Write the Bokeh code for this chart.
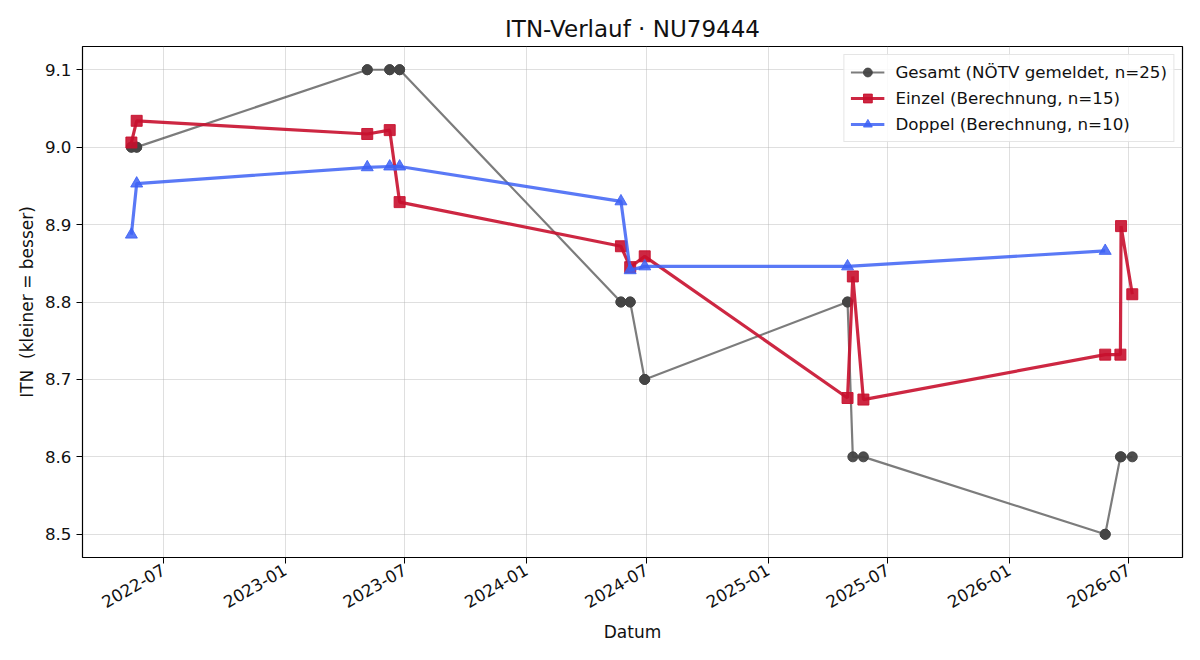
import math
from datetime import datetime
import pandas as pd
from bokeh.plotting import figure
from bokeh.models import FixedTicker, DatetimeTickFormatter, Range1d, NumeralTickFormatter
from bokeh.embed import file_html
from bokeh.resources import INLINE

# ---- data ----
gesamt_dates = ["2022-05-13", "2022-05-13", "2022-05-21", "2022-05-21",
                "2023-05-05", "2023-05-05", "2023-06-08", "2023-06-08",
                "2023-06-23", "2023-06-23", "2024-05-23", "2024-05-23",
                "2024-06-06", "2024-06-06", "2024-06-28", "2024-06-28",
                "2025-05-01", "2025-05-01", "2025-05-09", "2025-05-25",
                "2026-05-26", "2026-05-26", "2026-06-18", "2026-06-19",
                "2026-07-06"]
gesamt_itn = [9.0, 9.0, 9.0, 9.0,
              9.1, 9.1, 9.1, 9.1,
              9.1, 9.1, 8.8, 8.8,
              8.8, 8.8, 8.7, 8.7,
              8.8, 8.8, 8.6, 8.6,
              8.5, 8.5, 8.6, 8.6,
              8.6]

einzel_dates = ["2022-05-13", "2022-05-21", "2023-05-05", "2023-06-08",
                "2023-06-23", "2024-05-23", "2024-06-06", "2024-06-28",
                "2025-05-01", "2025-05-09", "2025-05-25", "2026-05-26",
                "2026-06-18", "2026-06-19", "2026-07-06"]
einzel_itn = [9.006, 9.034, 9.017, 9.022,
              8.929, 8.872, 8.845, 8.859,
              8.676, 8.833, 8.674, 8.732,
              8.732, 8.898, 8.810]

doppel_dates = ["2022-05-13", "2022-05-21", "2023-05-05", "2023-06-08",
                "2023-06-23", "2024-05-23", "2024-06-06", "2024-06-28",
                "2025-05-01", "2026-05-26"]
doppel_itn = [8.887, 8.953, 8.974, 8.975,
              8.975, 8.930, 8.841, 8.846,
              8.846, 8.866]

x_tick_dates = ["2022-07-01", "2023-01-01", "2023-07-01", "2024-01-01",
                "2024-07-01", "2025-01-01", "2025-07-01", "2026-01-01",
                "2026-07-01"]
y_ticks = [8.5, 8.6, 8.7, 8.8, 8.9, 9.0, 9.1]

labels = ["Gesamt (NÖTV gemeldet, n=25)",
          "Einzel (Berechnung, n=15)",
          "Doppel (Berechnung, n=10)"]

FONT = "DejaVu Sans"

gd = pd.to_datetime(gesamt_dates)
ed = pd.to_datetime(einzel_dates)
dd = pd.to_datetime(doppel_dates)

p = figure(width=1200, height=660, x_axis_type="datetime",
           output_backend="svg", toolbar_location=None,
           title="ITN-Verlauf · NU79444",
           x_range=Range1d(datetime(2022, 2, 28), datetime(2026, 9, 20)),
           y_range=Range1d(8.47, 9.13),
           min_border_left=82, min_border_right=18,
           min_border_top=46, min_border_bottom=103)

p.background_fill_color = "white"
p.border_fill_color = "white"
p.outline_line_color = "black"
p.outline_line_width = 1.2

# title
p.title.text_font = FONT
p.title.text_font_size = "23px"
p.title.text_font_style = "normal"
p.title.align = "center"
p.title.text_color = "#111111"

# series
gc = "#444444"
p.line(gd, gesamt_itn, line_color=gc, line_alpha=0.7, line_width=2.2,
       legend_label=labels[0])
p.scatter(gd, gesamt_itn, marker="circle", size=10, fill_color=gc,
          line_color=gc, fill_alpha=0.95, line_alpha=0.95, legend_label=labels[0])

ec = "#C8102E"
p.line(ed, einzel_itn, line_color=ec, line_alpha=0.9, line_width=3.2,
       legend_label=labels[1])
p.scatter(ed, einzel_itn, marker="square", size=11, fill_color=ec,
          line_color=ec, fill_alpha=0.9, line_alpha=0.9, legend_label=labels[1])

dc = "#3D62F5"
p.line(dd, doppel_itn, line_color=dc, line_alpha=0.85, line_width=3.2,
       legend_label=labels[2])
p.scatter(dd, doppel_itn, marker="triangle", size=12, fill_color=dc,
          line_color=dc, fill_alpha=0.85, line_alpha=0.85, legend_label=labels[2])

# axes
xticks_ms = [pd.Timestamp(d).value / 1e6 for d in x_tick_dates]
p.xaxis.ticker = FixedTicker(ticks=xticks_ms)
fmt = "%Y-%m"
p.xaxis.formatter = DatetimeTickFormatter(
    milliseconds=fmt, seconds=fmt, minsec=fmt, minutes=fmt, hourmin=fmt,
    hours=fmt, days=fmt, months=fmt, years=fmt)
p.xaxis.major_label_orientation = math.radians(30)
p.yaxis.ticker = FixedTicker(ticks=y_ticks)
p.yaxis.formatter = NumeralTickFormatter(format="0.0")

for ax in (p.xaxis[0], p.yaxis[0]):
    ax.major_label_text_font = FONT
    ax.major_label_text_font_size = "16.7px"
    ax.major_label_text_color = "#111111"
    ax.axis_label_text_font = FONT
    ax.axis_label_text_font_size = "17px"
    ax.axis_label_text_font_style = "normal"
    ax.axis_label_text_color = "#111111"
    ax.major_tick_in = 0
    ax.major_tick_out = 6
    ax.minor_tick_in = 0
    ax.minor_tick_out = 0
    ax.axis_line_color = None
    ax.major_tick_line_color = "black"

p.xaxis.axis_label = "Datum"
p.yaxis.axis_label = "ITN \u00a0(kleiner = besser)"

p.xgrid.ticker = FixedTicker(ticks=xticks_ms)
p.ygrid.ticker = FixedTicker(ticks=y_ticks)
for g in (p.xgrid[0], p.ygrid[0]):
    g.grid_line_color = "#b0b0b0"
    g.grid_line_alpha = 0.4
    g.grid_line_width = 1

# legend
lg = p.legend[0]
lg.location = "top_right"
lg.margin = 8
lg.padding = 6
lg.spacing = 4
lg.label_height = 22
lg.glyph_height = 22
lg.glyph_width = 34
lg.label_standoff = 11
lg.label_text_font = FONT
lg.label_text_font_size = "16.7px"
lg.label_text_color = "#111111"
lg.border_line_color = "#cccccc"
lg.border_line_width = 1
lg.background_fill_color = "white"
lg.background_fill_alpha = 0.85

open("out.html", "w").write(file_html(p, INLINE))
